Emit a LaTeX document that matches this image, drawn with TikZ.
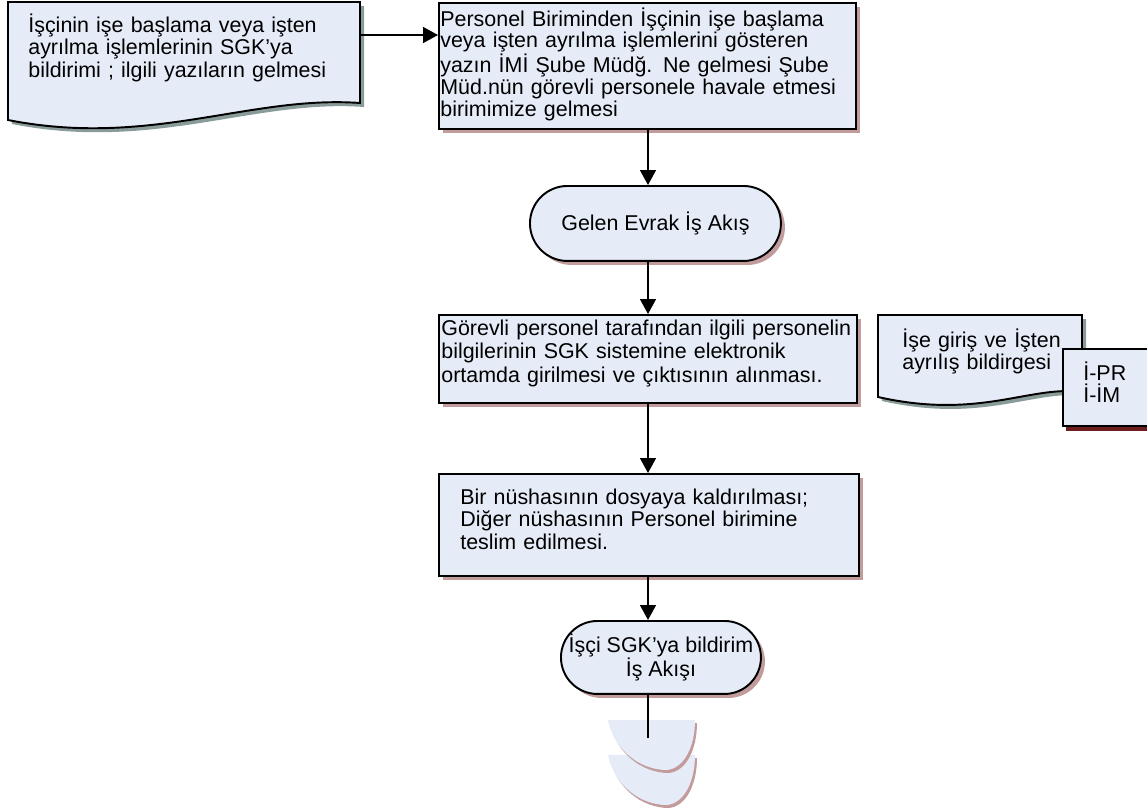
\documentclass[tikz,border=0pt]{standalone}
\usepackage{fontspec}
\setmainfont{Liberation Sans}
\usetikzlibrary{arrows.meta,shadows}

\definecolor{boxfill}{HTML}{E6ECF7}
\definecolor{boxshadow}{HTML}{C29C9C}
\definecolor{docshadow}{HTML}{8A9C9A}
\definecolor{codeshadow}{HTML}{6E1E1E}

\begin{document}
\begin{tikzpicture}[
    x=0.02cm, y=-0.02cm,
    process/.style={rectangle, draw, line width=1.1pt, fill=boxfill, inner sep=0pt, anchor=north west,
        drop shadow={shadow xshift=0.08cm, shadow yshift=-0.08cm, fill=boxshadow, opacity=1}},
    terminal/.style={process, rounded corners=#1, align=center, font=\fontsize{12.2}{13}\selectfont},
    document/.style={draw, line width=1.1pt, fill=boxfill,
        drop shadow={shadow xshift=0.08cm, shadow yshift=-0.08cm, fill=docshadow, opacity=1}},
    box text/.style={anchor=base west, inner sep=0pt, text width=10cm, align=left, font=\fontsize{12.2}{#1}\selectfont},
    flow/.style={line width=1.1pt, -{Triangle[length=8.5pt, width=9pt]}},
    link/.style={line width=1.1pt}
]
\useasboundingbox (0,0) rectangle (1147,809);
\coordinate (spine) at (648,0);

% Incoming document
\draw[document] (8,2) -- (360,2) -- (360,103) .. controls (250,95) and (150,148) .. (8,120) -- cycle;
\node[box text=13pt] (doc1) at (28,32) {İşçinin işe başlama veya işten\\ayrılma işlemlerinin SGK’ya\\bildirimi ; ilgili yazıların gelmesi};
\coordinate (doc1 out) at (360,35);

% Process boxes
\node[process, minimum width=8.34cm, minimum height=2.52cm] (box2) at (438,2) {};
\node[box text=12.4pt] (box2 text) at (440,26) {Personel Biriminden İşçinin işe başlama\\veya işten ayrılma işlemlerini gösteren\\yazın İMİ Şube Müdğ. Ne gelmesi Şube\\Müd.nün görevli personele havale etmesi\\birimimize gelmesi};

\node[terminal=0.75cm, minimum width=5.02cm, minimum height=1.5cm] (term1) at (529,185) {Gelen Evrak İş Akış};

\node[process, minimum width=8.36cm, minimum height=1.76cm] (box3) at (438,314) {};
\node[box text=13.5pt] (box3 text) at (441,335) {Görevli personel tarafından ilgili personelin\\bilgilerinin SGK sistemine elektronik\\ortamda girilmesi ve çıktısının alınması.};

\node[process, minimum width=8.4cm, minimum height=2.04cm] (box4) at (438,473) {};
\node[box text=12.9pt] (box4 text) at (460,504) {Bir nüshasının dosyaya kaldırılması;\\Diğer nüshasının Personel birimine\\teslim edilmesi.};

\node[terminal=0.73cm, minimum width=4cm, minimum height=1.46cm] (term2) at (560,620) {İşçi SGK’ya bildirim\\İş Akışı};

% Output document and form codes
\draw[document] (878,315) -- (1082,315) -- (1082,392) .. controls (1030,385) and (980,420) .. (878,397) -- cycle;
\node[box text=13pt] (doc2) at (902,347) {İşe giriş ve İşten\\ayrılış bildirgesi};
\node[process, minimum width=1.8cm, minimum height=1.54cm,
    drop shadow={shadow xshift=0.06cm, shadow yshift=-0.1cm, fill=codeshadow, opacity=1}] (codes) at (1062,348) {};
\node[box text=13pt] (codes text) at (1083,380) {İ-PR\\İ-İM};

% Off-page connectors
\foreach \dy in {35,0} {
  \begin{scope}[shift={(0,\dy)}]
    \fill[boxshadow, shift={(2,3)}] (608,720) .. controls (614,750) and (640,770) .. (667,770) .. controls (685,768) and (695,745) .. (695,720) -- cycle;
    \fill[boxfill] (608,720) .. controls (614,750) and (640,770) .. (667,770) .. controls (685,768) and (695,745) .. (695,720) -- cycle;
  \end{scope}
}
\coordinate (tail) at (648,738);

% Flow
\draw[flow] (doc1 out) -- (doc1 out -| box2.west);
\draw[flow] (box2.south -| spine) -- (term1.north -| spine);
\draw[flow] (term1.south -| spine) -- (box3.north -| spine);
\draw[flow] (box3.south -| spine) -- (box4.north -| spine);
\draw[flow] (box4.south -| spine) -- (term2.north -| spine);
\draw[link] (term2.south -| spine) -- (tail);

\end{tikzpicture}
\end{document}
